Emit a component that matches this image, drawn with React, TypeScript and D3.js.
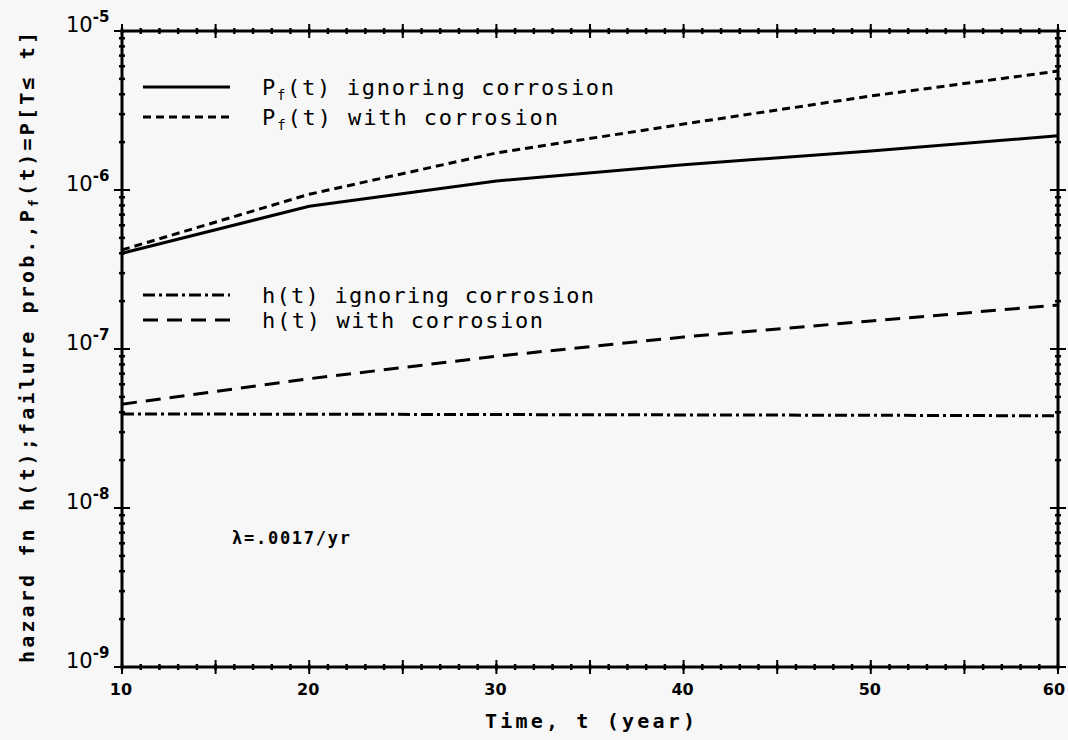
import * as d3 from "d3";

// time in years
const years = [10, 20, 30, 40, 50, 60];
const pfIgnoring = [4.0e-7, 7.9e-7, 1.14e-6, 1.44e-6, 1.76e-6, 2.19e-6];
const pfCorrosion = [4.2e-7, 9.4e-7, 1.71e-6, 2.6e-6, 3.9e-6, 5.6e-6];
const hIgnoring = [3.9e-8, 3.89e-8, 3.87e-8, 3.85e-8, 3.83e-8, 3.8e-8];
const hCorrosion = [4.5e-8, 6.5e-8, 9.0e-8, 1.19e-7, 1.5e-7, 1.89e-7];

const xTickLabels = [10, 20, 30, 40, 50, 60];
const yExponents = [-9, -8, -7, -6, -5];

const W = 1068;
const H = 740;
const left = 122, right = 1058, top = 31, bottom = 667;
const FONT = "'DejaVu Sans Mono', monospace";

const App = () => {
  const x = d3.scaleLinear().domain([10, 60]).range([left, right]);
  const y = d3.scaleLog().domain([1e-9, 1e-5]).range([bottom, top]);

  const line = (vals: number[]) =>
    d3.line<number>().x((_, i) => x(years[i])).y((v) => y(v))(vals) || "";

  const series = [
    { vals: pfIgnoring, dash: "none" },
    { vals: pfCorrosion, dash: "8,5" },
    { vals: hIgnoring, dash: "12,4,3,4" },
    { vals: hCorrosion, dash: "15,9" },
  ];

  // minor ticks
  const xMinor = d3.range(10, 61, 1);
  const xMajor = d3.range(10, 61, 5);
  const yMinor: number[] = [];
  yExponents.slice(0, -1).forEach((e) => {
    for (let k = 2; k <= 9; k++) yMinor.push(k * Math.pow(10, e));
  });

  const legend = [
    { sym: "P", sub: "f", rest: "(t) ignoring corrosion", y: 87, len: 352, dash: "none" },
    { sym: "P", sub: "f", rest: "(t) with corrosion", y: 117, len: 296, dash: "8,5" },
    { sym: "h", sub: "", rest: "(t) ignoring corrosion", y: 295, len: 332, dash: "12,4,3,4" },
    { sym: "h", sub: "", rest: "(t) with corrosion", y: 320, len: 281, dash: "15,9" },
  ];

  return (
    <svg
      width={W}
      height={H}
      style={{ position: "absolute", left: 0, top: 0 }}
      fontFamily={FONT}
    >
      <rect width={W} height={H} fill="#f7f7f7" />

      {/* frame */}
      <rect
        x={left}
        y={top}
        width={right - left}
        height={bottom - top}
        fill="none"
        stroke="#000"
        strokeWidth={3}
      />

      {/* x ticks, bottom and top */}
      {xMinor.map((t) => (
        <g key={"xm" + t} stroke="#000" strokeWidth={2.5}>
          <line x1={x(t)} x2={x(t)} y1={bottom - 3} y2={bottom + 3} />
          <line x1={x(t)} x2={x(t)} y1={top - 3} y2={top + 3} />
        </g>
      ))}
      {xMajor.map((t) => (
        <g key={"xM" + t} stroke="#000" strokeWidth={2}>
          <line x1={x(t)} x2={x(t)} y1={bottom - 7} y2={bottom + 7} />
          <line x1={x(t)} x2={x(t)} y1={top - 7} y2={top + 7} />
        </g>
      ))}

      {/* y ticks, left and right */}
      {yMinor.map((v) => (
        <g key={"ym" + v} stroke="#000" strokeWidth={2.5}>
          <line x1={left - 3} x2={left + 3} y1={y(v)} y2={y(v)} />
          <line x1={right - 3} x2={right + 3} y1={y(v)} y2={y(v)} />
        </g>
      ))}
      {yExponents.map((e) => (
        <g key={"yM" + e} stroke="#000" strokeWidth={2}>
          <line x1={left - 8} x2={left + 8} y1={y(Math.pow(10, e))} y2={y(Math.pow(10, e))} />
          <line x1={right - 8} x2={right + 8} y1={y(Math.pow(10, e))} y2={y(Math.pow(10, e))} />
        </g>
      ))}

      {/* x tick labels */}
      {xTickLabels.map((t) => (
        <text
          key={"xl" + t}
          x={x(t) - (t === 60 ? 4 : 1)}
          y={bottom + 28}
          textAnchor="middle"
          fontSize={16}
          fontWeight="bold"
          fontFamily="'DejaVu Sans', sans-serif"
        >
          {t}
        </text>
      ))}

      {/* y tick labels */}
      {yExponents.map((e) => (
        <text
          key={"yl" + e}
          x={66}
          y={y(Math.pow(10, e)) + 1}
          fontSize={21}
          fontFamily="'DejaVu Sans', sans-serif"
        >
          10
          <tspan fontSize={15} dy={-10} fontWeight="bold">
            {"-" + Math.abs(e)}
          </tspan>
        </text>
      ))}

      {/* curves */}
      {series.map((s, i) => (
        <path
          key={"s" + i}
          d={line(s.vals)}
          fill="none"
          stroke="#000"
          strokeWidth={3}
          strokeDasharray={s.dash}
        />
      ))}

      {/* legend */}
      {legend.map((l, i) => (
        <g key={"lg" + i}>
          <line
            x1={143}
            x2={230}
            y1={l.y}
            y2={l.y}
            stroke="#000"
            strokeWidth={3}
            strokeDasharray={l.dash}
          />
          <text
            x={262}
            y={l.y + 8}
            fontSize={22}
            textLength={l.len}
            lengthAdjust="spacing"
          >
            {l.sym}
            {l.sub ? (
              <>
                <tspan fontSize={14} dy={5}>
                  {l.sub}
                </tspan>
                <tspan dy={-5}>{l.rest}</tspan>
              </>
            ) : (
              <tspan>{l.rest}</tspan>
            )}
          </text>
        </g>
      ))}

      {/* annotation */}
      <text x={232} y={544} fontSize={17} fontWeight="bold" textLength={118} lengthAdjust="spacing">
        λ=.0017/yr
      </text>

      {/* axis titles */}
      <text
        x={590}
        y={728}
        textAnchor="middle"
        fontSize={20}
        fontWeight="bold"
        textLength={210}
        lengthAdjust="spacing"
      >
        Time, t (year)
      </text>
      <text
        transform={`translate(34,${(32 + 663) / 2}) rotate(-90)`}
        textAnchor="middle"
        fontSize={20}
        fontWeight="bold"
        textLength={631}
        lengthAdjust="spacing"
      >
        hazard fn h(t);failure prob.,P
        <tspan fontSize={13} dy={4}>
          f
        </tspan>
        <tspan dy={-4}>(t)=P[T≤ t]</tspan>
      </text>
    </svg>
  );
};

export default App;
